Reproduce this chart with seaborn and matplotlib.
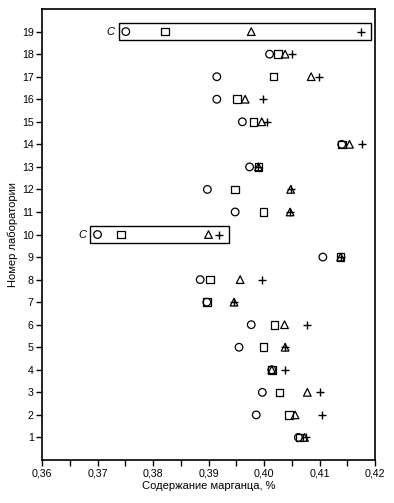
import matplotlib
matplotlib.use("Agg")
import matplotlib.pyplot as plt
import seaborn as sns
import pandas as pd
from matplotlib.patches import Rectangle
from matplotlib.ticker import MultipleLocator, FuncFormatter

labs = list(range(1, 20))
circle = [0.4062, 0.3986, 0.3997, 0.4014, 0.3955, 0.3977, 0.3897, 0.3885, 0.4106, 0.3700,
          0.3948, 0.3898, 0.3974, 0.4140, 0.3961, 0.3915, 0.3915, 0.4010, 0.3751]
square = [0.4064, 0.4045, 0.4028, 0.4014, 0.3999, 0.4019, 0.3897, 0.3903, 0.4138, 0.3742,
          0.3999, 0.3948, 0.3990, 0.4140, 0.3981, 0.3951, 0.4017, 0.4025, 0.3822]
triangle = [0.4073, 0.4056, 0.4078, 0.4014, 0.4038, 0.4037, 0.3946, 0.3957, 0.4138, 0.3900,
            0.4047, 0.4048, 0.3990, 0.4154, 0.3996, 0.3966, 0.4085, 0.4038, 0.3977]
plus = [0.4075, 0.4104, 0.4100, 0.4037, 0.4038, 0.4078, 0.3946, 0.3997, 0.4138, 0.3919,
        0.4047, 0.4048, 0.3990, 0.4176, 0.4005, 0.3999, 0.4099, 0.4050, 0.4175]
outlier_labs = [10, 19]

xlabel = "Содержание марганца, %"
ylabel = "Номер лаборатории"

sns.set_theme(style="ticks")
plt.rcParams['font.family'] = ['Liberation Sans', 'DejaVu Sans']

fig = plt.figure(figsize=(3.94, 5.03), dpi=100)
ax = fig.add_axes([0.1066, 0.0855, 0.8452, 0.8965])

series = [("circle", circle, "o"), ("square", square, "s"), ("triangle", triangle, "^")]
for name, vals, m in series:
    df = pd.DataFrame({"x": vals, "y": labs})
    sns.scatterplot(data=df, x="x", y="y", marker=m, s=30, facecolors="none",
                    edgecolor="black", linewidth=0.9, ax=ax, legend=False, zorder=3)
dfp = pd.DataFrame({"x": plus, "y": labs})
sns.scatterplot(data=dfp, x="x", y="y", marker="+", s=36, color="black",
                linewidth=1.0, ax=ax, legend=False, zorder=3)

for lab in outlier_labs:
    i = lab - 1
    vals = [circle[i], square[i], triangle[i], plus[i]]
    lo, hi = min(vals) - 0.0013, max(vals) + 0.0018
    ax.add_patch(Rectangle((lo, lab - 0.37), hi - lo, 0.74, fill=False,
                           edgecolor="black", linewidth=1.0, zorder=2))
    ax.text(lo - 0.0007, lab, "C", ha="right", va="center", fontsize=8,
            style="italic", color="black")

ax.set_xlim(0.36, 0.42)
ax.set_ylim(0, 20)
ax.xaxis.set_major_locator(MultipleLocator(0.01))
ax.xaxis.set_minor_locator(MultipleLocator(0.005))
ax.xaxis.set_major_formatter(FuncFormatter(lambda v, p: f"{v:.2f}".replace(".", ",")))
ax.set_yticks(labs)
ax.tick_params(axis="both", which="both", direction="out", length=4, width=1,
               colors="black", labelsize=7.7, pad=2)
ax.set_xlabel(xlabel, fontsize=8, color="black", labelpad=2)
ax.set_ylabel(ylabel, fontsize=8, color="black", labelpad=3)
for sp in ax.spines.values():
    sp.set_visible(True)
    sp.set_linewidth(1.2)
    sp.set_color("black")

fig.savefig("out.png", dpi=100)
